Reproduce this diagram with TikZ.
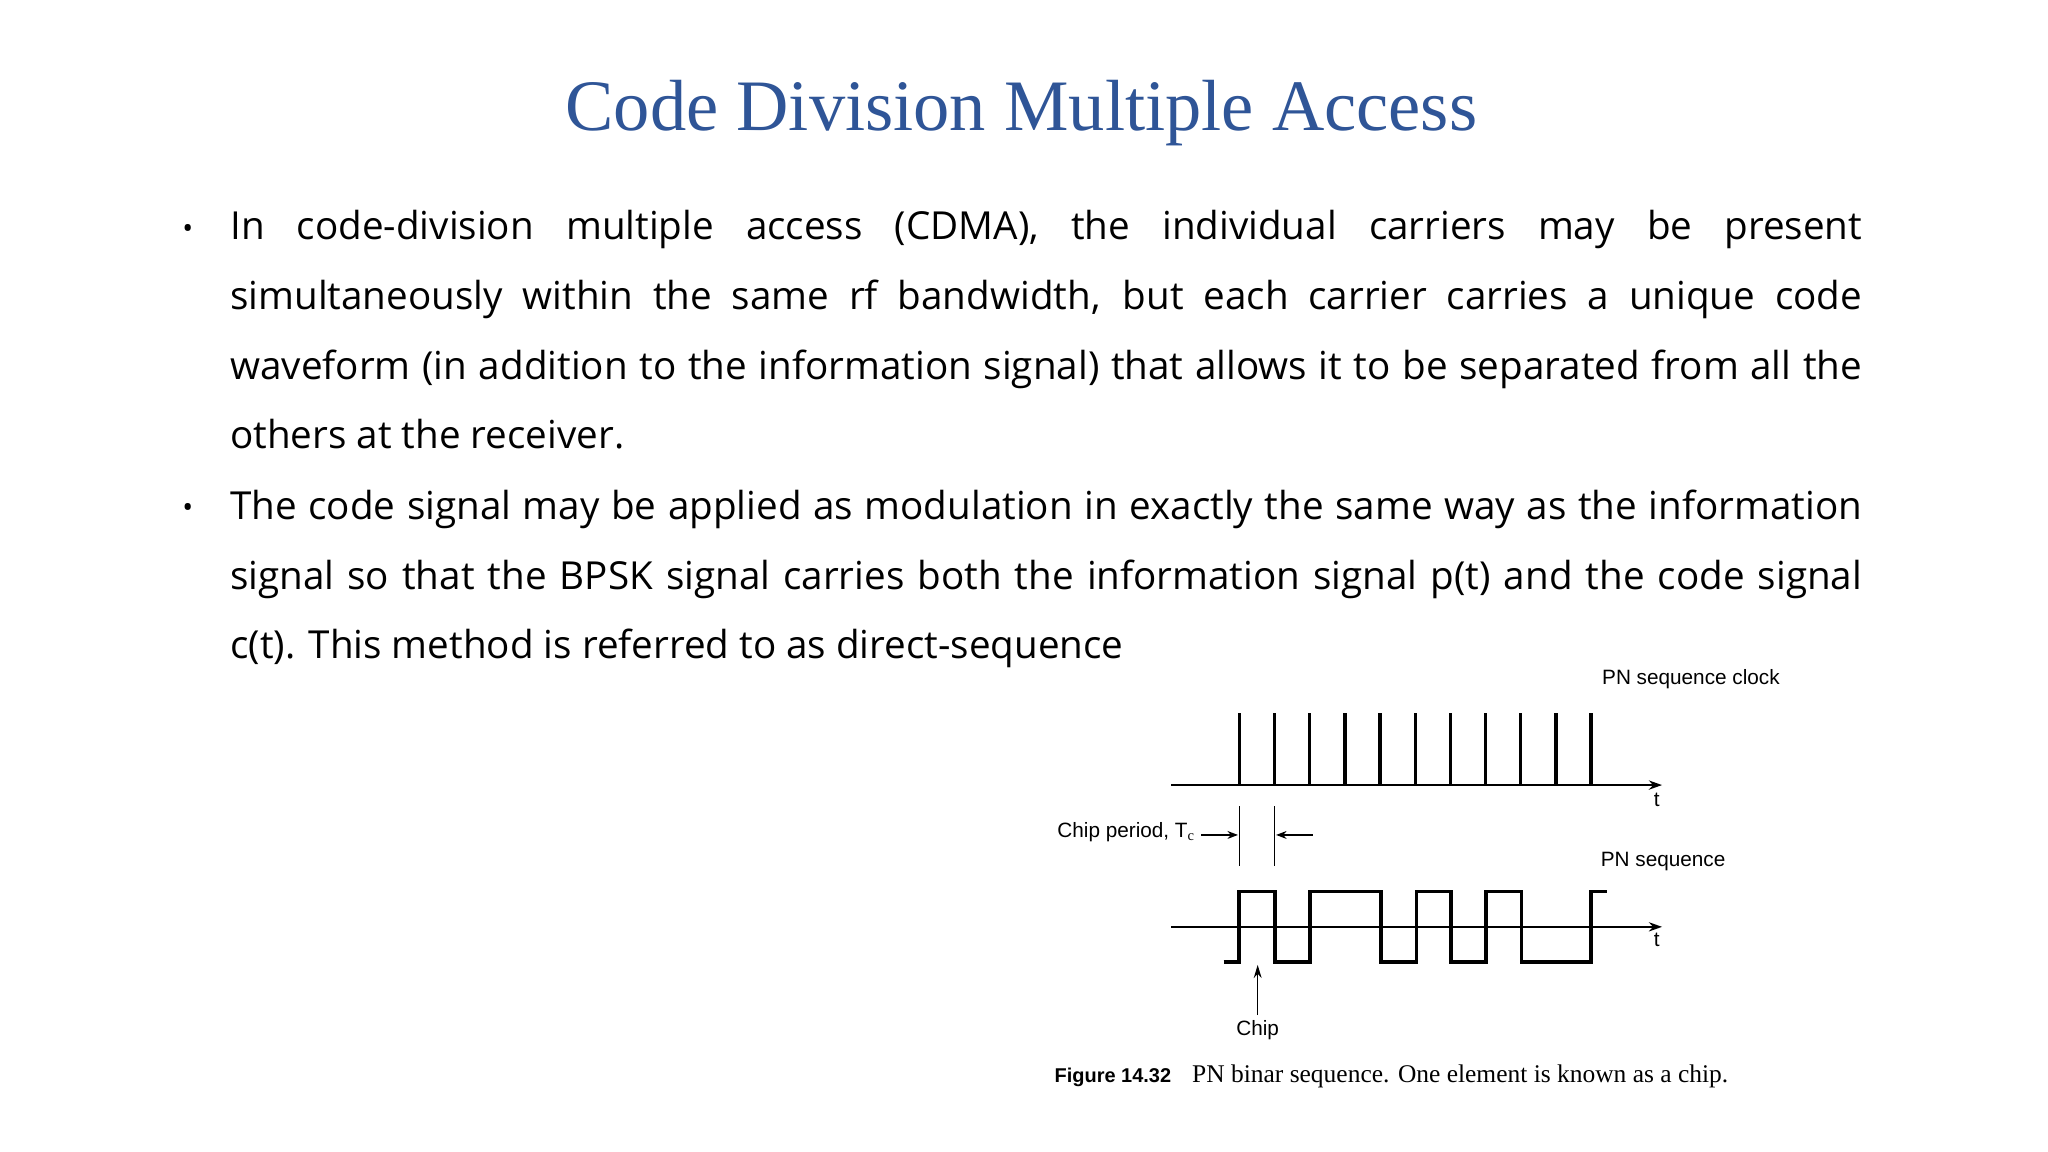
\documentclass[tikz,border=0pt]{standalone}
\usepackage{fontspec}
\setmainfont{Liberation Serif}
\newfontfamily\bodyf{Open Sans}
\newfontfamily\figf{Liberation Sans}
\usetikzlibrary{arrows.meta}
\definecolor{titleblue}{HTML}{2F5597}
\begin{document}
\begin{tikzpicture}[x=0.5pt,y=-0.5pt,
  para/.style={anchor=north west,inner sep=0pt,text width=621.5pt,align=justify,font=\bodyf\fontsize{14.7pt}{26.5pt}\selectfont},
  bul/.style={anchor=center,inner sep=0pt,font=\bodyf\fontsize{11pt}{12pt}\selectfont},
  lab/.style={inner sep=0pt,font=\figf\fontsize{7.9pt}{9pt}\selectfont},
  axis/.style={line width=0.8pt,-{Stealth[length=5pt,width=3.5pt]}},
  wave/.style={line width=1.4pt,line join=miter},
  thin/.style={line width=0.5pt}]
\useasboundingbox (0,0) rectangle (1560,877.5);
\node[inner sep=0pt,font=\fontsize{27.6pt}{32pt}\selectfont,text=titleblue] (title) at (778,86) {Code Division Multiple Access};
\node[bul] (b1) at (143,176) {•};
\node[para] (p1) at (175,160) {In code-division multiple access (CDMA), the individual carriers may be present\linebreak simultaneously within the same rf bandwidth, but each carrier carries a unique code\linebreak waveform (in addition to the information signal) that allows it to be separated from all the\linebreak others at the receiver.};
\node[bul] (b2) at (143,389) {•};
\node[para] (p2) at (175,373) {The code signal may be applied as modulation in exactly the same way as the information\linebreak signal so that the BPSK signal carries both the information signal p(t) and the code signal\linebreak c(t). This method is referred to as direct-sequence};
% figure background
\fill[white] (783,505) rectangle (1370,845);
% clock
\coordinate (a1s) at (892,598); \coordinate (a1e) at (1266,598);
\draw[axis] (a1s) -- (a1e);
\foreach \i in {0,...,10}{ \draw[line width=1.3pt] (944+26.8*\i,598) -- (944+26.8*\i,543); }
\node[lab] (t1) at (1262,609) {t};
\node[lab,anchor=west] (clk) at (1220,517) {PN sequence clock};
% chip period
\draw[thin] (944,614) -- (944,660);
\draw[thin] (971,614) -- (971,660);
\coordinate (c1) at (915,636); \coordinate (c2) at (943,636);
\coordinate (c3) at (1000,636); \coordinate (c4) at (972,636);
\draw[thin,-{Stealth[length=4pt,width=3pt]}] (c1) -- (c2);
\draw[thin,-{Stealth[length=4pt,width=3pt]}] (c3) -- (c4);
\node[lab,anchor=east] (cp) at (911,634) {Chip period, T$_{\mathrm c}$};
% PN sequence
\node[lab,anchor=west] (pns) at (1219,656) {PN sequence};
\coordinate (a2s) at (892,706); \coordinate (a2e) at (1266,706);
\draw[axis] (a2s) -- (a2e);
\draw[wave] (932,733) -- (944,733) -- (944,679) -- (971,679) -- (971,733) -- (998,733) -- (998,679) -- (1052,679) -- (1052,733) -- (1079,733) -- (1079,679) -- (1105,679) -- (1105,733) -- (1132,733) -- (1132,679) -- (1159,679) -- (1159,733) -- (1212,733) -- (1212,679) -- (1224,679);
\node[lab] (t2) at (1262,716) {t};
\node[lab] (chip) at (958,785) {Chip};
\coordinate (ch) at (958,735);
\draw[thin,-{Stealth[length=5pt,width=3pt]}] (chip.north) ++(0,-4) -- (ch);
\node[inner sep=0pt,anchor=west,font=\fontsize{9.7pt}{11pt}\selectfont] (cap) at (803,820) {{\figf\bfseries\fontsize{7.6pt}{9pt}\selectfont Figure 14.32}\hspace{8pt}PN binar sequence. One element is known as a chip.};
\end{tikzpicture}
\end{document}
